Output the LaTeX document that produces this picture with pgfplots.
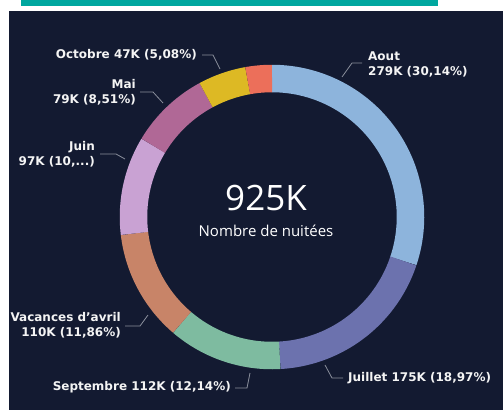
\documentclass[border=0pt]{standalone}
\usepackage{pgfplots}
\pgfplotsset{compat=1.18}
\usepackage{pgfplotstable}
\usepackage{fontspec}
\setmainfont{DejaVu Sans}
\newfontfamily\opensans{Open Sans}
\definecolor{bgnavy}{HTML}{131A31}
\definecolor{topteal}{HTML}{00A79F}
\definecolor{cAout}{HTML}{8DB4DC}
\definecolor{cJuillet}{HTML}{6C72AE}
\definecolor{cSeptembre}{HTML}{7EBBA0}
\definecolor{cVacances}{HTML}{C88468}
\definecolor{cJuin}{HTML}{C9A2D3}
\definecolor{cMai}{HTML}{B06896}
\definecolor{cOctobre}{HTML}{DDB924}
\definecolor{cAutre}{HTML}{EC6F5A}
\definecolor{lbl}{HTML}{F4F4F4}
\definecolor{leader}{HTML}{8A8F9C}
\pgfplotstableread[col sep=comma]{
name,value,pct,color
Aout,279,30.14,cAout
Juillet,175,18.97,cJuillet
Septembre,112,12.14,cSeptembre
Vacances,110,11.86,cVacances
Juin,97,10.49,cJuin
Mai,79,8.51,cMai
Octobre,47,5.08,cOctobre
Autre,26,2.81,cAutre
}\donut
\begin{document}
\begin{tikzpicture}
\begin{axis}[
  width=503pt, height=410pt, scale only axis,
  xmin=0, xmax=503, ymin=0, ymax=410, y dir=reverse,
  hide axis, clip=false,
]
\fill[white] (0,0) rectangle (503,410);
\fill[topteal] (21,0) rectangle (438,6);
\fill[bgnavy] (9,11) rectangle (503,410);
\def\cum{0}
\pgfplotsforeachungrouped \i in {0,...,7}{%
  \pgfplotstablegetelem{\i}{pct}\of\donut \let\p\pgfplotsretval
  \pgfplotstablegetelem{\i}{color}\of\donut \let\c\pgfplotsretval
  \pgfmathsetmacro\endv{\cum+\p}%
  \edef\doplot{\noexpand\addplot[draw=\c, line width=27.5pt, no markers, domain=\cum:\endv, samples=60, variable=\noexpand\t] ({272+138.5*sin(3.6*\noexpand\t)},{217-138.5*cos(3.6*\noexpand\t)});}%
  \doplot
  \global\let\cum\endv
}
% leader lines
\draw[leader, line width=0.8pt] (202,55) -- (213,55) -- (220,69);
\draw[leader, line width=0.8pt] (140,92) -- (153,92) -- (163,103);
\draw[leader, line width=0.8pt] (100,154) -- (116,154) -- (125,159);
\draw[leader, line width=0.8pt] (362,63) -- (352,63) -- (342,77);
\draw[leader, line width=0.8pt] (125,326) -- (140,326) -- (148,315);
\draw[leader, line width=0.8pt] (235,388) -- (247,388) -- (250,373);
\draw[leader, line width=0.8pt] (343,378) -- (332,378) -- (325,365);
% labels
\begin{scope}[every node/.style={text=lbl, font=\bfseries\fontsize{12}{15}\selectfont, inner sep=0pt}]
\node[anchor=east] at (197,55) {Octobre 47K (5,08\%)};
\node[anchor=east, align=right] at (136,92) {Mai\\79K (8,51\%)};
\node[anchor=east, align=right] at (95,154) {Juin\\97K (10,...)};
\node[anchor=west, align=left] at (368,64) {Aout\\279K (30,14\%)};
\node[anchor=east, align=right] at (121,325) {Vacances d\char"0027avril\\110K (11,86\%)};
\node[anchor=east] at (231,387) {Septembre 112K (12,14\%)};
\node[anchor=west] at (348,378) {Juillet 175K (18,97\%)};
\end{scope}
\node[text=white, font=\opensans\fontsize{35}{35}\selectfont, inner sep=0pt] at (266,198) {925K};
\node[text=white, font=\opensans\fontsize{15}{16}\selectfont, inner sep=0pt] at (266,231) {Nombre de nuitées};
\end{axis}
\end{tikzpicture}
\end{document}
